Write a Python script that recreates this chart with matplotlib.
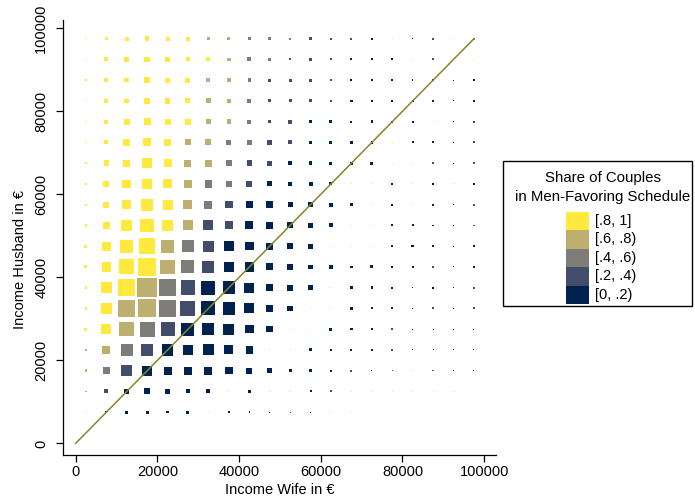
import matplotlib
matplotlib.use("Agg")
import matplotlib.pyplot as plt
from matplotlib.patches import Rectangle

plt.rcParams['font.family'] = ['Liberation Sans', 'DejaVu Sans']

# bin centres of the income grid (euro)
wife_bins = [2500, 7500, 12500, 17500, 22500, 27500, 32500, 37500, 42500, 47500,
             52500, 57500, 62500, 67500, 72500, 77500, 82500, 87500, 92500, 97500]
husband_bins = [97500, 92500, 87500, 82500, 77500, 72500, 67500, 62500, 57500, 52500,
                47500, 42500, 37500, 32500, 27500, 22500, 17500, 12500, 7500]

# share class per cell (0 = [0,.2) ... 4 = [.8,1]), '.' = no couples
share_class = [
    "44444433222111040142",
    "44444443221110004104",
    "44444433211110000000",
    "44444433211110000000",
    "44444433211000000401",
    "44444332211000040001",
    "44444332110000044101",
    "44444322100004404040",
    "44444321000000404001",
    "44444311000004400001",
    "44443210000044400000",
    "44443210000000000100",
    "44432100000040000001",
    "44332100000440000101",
    "44321000004400010000",
    "33210000044000010000",
    "32100000000001014100",
    "3100000404401444444.",
    "40000040001044......",
]

# marker side in pixels (grows with number of couples in the cell)
marker_px = [
    [1.5, 3.5, 4, 4.5, 4, 4, 3.5, 3, 3, 3, 2, 2.5, 2, 2, 2, 1, 1.5, 2, 1, 2],
    [1, 4, 4.5, 5.5, 4.5, 4, 4, 3.5, 4, 3, 2, 2.5, 2, 2, 2, 2, 1, 2, 1.5, 1],
    [1.5, 4, 4.5, 5.5, 5, 5, 4, 4, 3.5, 3, 3, 3, 2, 2, 2, 2, 1.5, 2, 1, 1.5],
    [1, 4, 4.5, 6.5, 5.5, 5, 5, 4.5, 4, 3, 3, 3, 2.5, 2.5, 2.5, 2, 2, 2, 1, 1.5],
    [1.5, 4, 6, 7, 6, 6, 5, 4.5, 4, 3.5, 4, 3, 3, 2, 2.5, 2, 2, 1, 1, 2],
    [1.5, 4, 6.5, 8, 7, 6, 6, 5, 5, 4.5, 4, 3.5, 3, 2.5, 2.5, 1, 2, 2, 1.5, 2],
    [2, 5.5, 7, 9.5, 8, 7, 7, 6, 5.5, 5, 4, 3.5, 3, 3, 3, 1, 1, 1.5, 1, 1.5],
    [2.5, 6, 8.5, 10, 9, 7.5, 7.5, 6.5, 6, 5, 4.5, 4, 3, 1, 1, 2, 1, 2, 1, 1.5],
    [2, 6, 9.5, 12, 10, 9, 8, 7.5, 7.5, 6.5, 5, 4.5, 4, 3, 1, 2, 1, 2, 1, 2],
    [2.5, 7.5, 11, 13.5, 11.5, 10, 10, 8, 8, 6.5, 6, 4.5, 4, 1, 1, 2, 2, 1.5, 1, 1.5],
    [3, 9, 13, 15.5, 13, 12, 11, 9.5, 8.5, 7, 5.5, 5, 1, 1, 1, 2, 2.5, 2, 1, 1.5],
    [3, 9.5, 15, 17.5, 14.5, 13, 12, 10.5, 9.5, 7, 5.5, 4.5, 4, 2.5, 3, 2, 2, 2, 1, 1.5],
    [2.5, 11.5, 16.5, 19.5, 16.5, 14.5, 14, 12.5, 10, 7, 6, 4.5, 1, 3, 2.5, 2, 1.5, 2, 1, 2],
    [2.5, 11, 17, 18, 17, 15, 14, 12.5, 10, 7, 5.5, 1, 1, 2.5, 2, 2, 1.5, 2, 1, 2],
    [3, 10, 14.5, 15, 14, 13, 12, 11, 8.5, 6.5, 1, 1, 3, 2.5, 1.5, 1.5, 1, 1, 1, 1],
    [2.5, 8, 12, 12, 11.5, 10.5, 11, 9, 7.5, 1, 1, 3, 2, 2, 2, 2, 1, 1, 1, 1],
    [2.5, 6.5, 10.5, 10, 8, 8, 8, 7.5, 6, 4.5, 3, 2.5, 2, 2, 1, 1, 1, 1.5, 1, 1],
    [1.5, 4, 5.5, 6, 4.5, 4, 4, 1, 3.5, 1, 1, 2, 2, 1, 1, 1, 1, 1, 1, 0],
    [1, 2, 3, 3, 2.5, 3, 1, 2.5, 1.5, 1, 1, 1, 1, 1, 0, 0, 0, 0, 0, 0],
]

class_labels = ["[0, .2)", "[.2, .4)", "[.4, .6)", "[.6, .8)", "[.8, 1]"]
class_colors = ["#00224E", "#414D6B", "#7D7C77", "#BDAF6F", "#FFE93E"]

diag_range = [0, 97500]

W, H = 695, 503
fig = plt.figure(figsize=(W / 100, H / 100), dpi=100)
ax = fig.add_axes([63 / W, 48 / H, 433 / W, 435 / H])

xs, ys, ss, cs = [], [], [], []
for r, yv in enumerate(husband_bins):
    for c, xv in enumerate(wife_bins):
        cls = share_class[r][c]
        if cls == '.' or marker_px[r][c] <= 0:
            continue
        xs.append(xv)
        ys.append(yv)
        ss.append((marker_px[r][c] * 0.72) ** 2)
        cs.append(class_colors[int(cls)])

ax.scatter(xs, ys, s=ss, c=cs, marker='s', linewidths=0, zorder=2)
ax.plot(diag_range, diag_range, color="#85852A", lw=1.1, zorder=3)

ax.set_xlim(-3100, 102900)
ax.set_ylim(-2800, 102000)
ax.set_xticks([0, 20000, 40000, 60000, 80000, 100000])
ax.set_yticks([0, 20000, 40000, 60000, 80000, 100000])
ax.spines['top'].set_visible(False)
ax.spines['right'].set_visible(False)
for sp in ['left', 'bottom']:
    ax.spines[sp].set_linewidth(0.9)
ax.tick_params(axis='both', length=4.7, width=0.9, labelsize=10.5, color='black')
ax.tick_params(axis='x', pad=2.5)
ax.tick_params(axis='y', pad=6, labelrotation=90)
for lbl in ax.get_yticklabels():
    lbl.set_va('center')

ax.set_xlabel("Income Wife in €", fontsize=10.5, labelpad=3)
ax.set_ylabel("Income Husband in €", fontsize=10.5)
ax.yaxis.set_label_coords(-0.083, 0.45)

# legend box drawn by hand
def fx(px):
    return px / W

def fy(py):
    return 1 - py / H

fig.add_artist(Rectangle((fx(503), fy(306)), fx(692) - fx(503), fy(161) - fy(306),
                         transform=fig.transFigure, fill=False, edgecolor='black', lw=1.0))
fig.text(fx(603), fy(178), "Share of Couples", ha='center', va='center', fontsize=10.8)
fig.text(fx(603), fy(197), "in Men-Favoring Schedule", ha='center', va='center', fontsize=10.8)

sw_h = 18.5
for i, (lab, col) in enumerate(zip(class_labels[::-1], class_colors[::-1])):
    top = 211.7 + i * sw_h
    fig.add_artist(Rectangle((fx(566), fy(top + sw_h)), fx(589) - fx(566), sw_h / H,
                             transform=fig.transFigure, facecolor=col, edgecolor='none'))
    fig.text(fx(595), fy(top + sw_h / 2), lab, ha='left', va='center', fontsize=10.5)

fig.savefig("out.png", dpi=100)
